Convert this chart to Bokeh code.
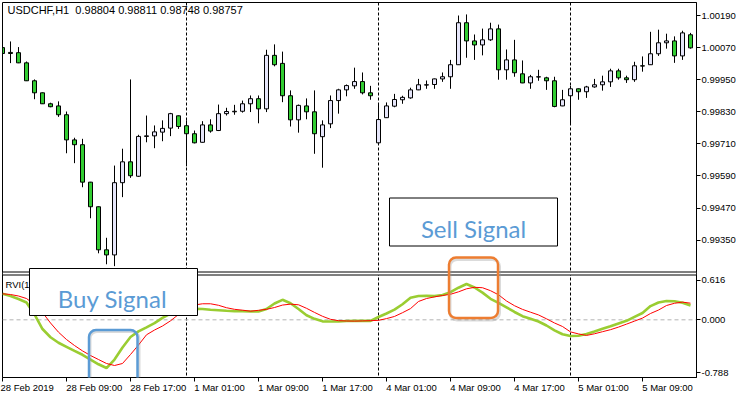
from bokeh.plotting import figure
from bokeh.models import (Range1d, LinearAxis, FixedTicker, PrintfTickFormatter, Span,
                          BoxAnnotation, Label, ColumnDataSource)
from bokeh.embed import file_html
from bokeh.resources import INLINE

# ---------------- data ----------------
header_text = "USDCHF,H1\u00a0 0.98804 0.98811 0.98748 0.98757"
indicator_text = "RVI(10) 0.1993 0.2314"

opens = [1.00070, 1.00052, 1.00051, 1.00013, 0.99946, 0.99901, 0.99860, 0.99852, 0.99819, 0.99725,
         0.99707, 0.99567, 0.99475, 0.99314, 0.99295, 0.99565, 0.99643, 0.99589, 0.99738, 0.99740,
         0.99754, 0.99769, 0.99815, 0.99778, 0.99748, 0.99716, 0.99781, 0.99760, 0.99823, 0.99830,
         0.99832, 0.99860, 0.99879, 0.99841, 1.00041, 1.00011, 0.99890, 0.99800, 0.99852, 0.99830,
         0.99737, 0.99785, 0.99872, 0.99912, 0.99927, 0.99943, 0.99901, 0.99714, 0.99808, 0.99851,
         0.99875, 0.99882, 0.99912, 0.99930, 0.99932, 0.99953, 0.99961, 1.00006, 1.00163, 1.00095,
         1.00080, 1.00099, 1.00140, 0.99987, 1.00024, 0.99972, 0.99938, 0.99960, 0.99957, 0.99946,
         0.99852, 0.99890, 0.99916, 0.99905, 0.99923, 0.99931, 0.99942, 0.99983, 0.99957, 0.99950,
         1.00002, 1.00006, 1.00047, 1.00088, 1.00095, 1.00039, 1.00118]
highs = [1.00082, 1.00093, 1.00072, 1.00018, 0.99951, 0.99902, 0.99864, 0.99869, 0.99831, 0.99733,
         0.99729, 0.99568, 0.99476, 0.99359, 0.99629, 0.99692, 0.99951, 0.99744, 0.99816, 0.99779,
         0.99798, 0.99826, 0.99816, 0.99798, 0.99760, 0.99795, 0.99802, 0.99857, 0.99845, 0.99856,
         0.99872, 0.99891, 0.99891, 1.00062, 1.00082, 1.00055, 0.99910, 0.99857, 0.99880, 0.99910,
         0.99798, 0.99891, 0.99916, 0.99932, 0.99995, 0.99977, 0.99927, 0.99860, 0.99865, 0.99897,
         0.99890, 0.99920, 0.99953, 0.99947, 0.99954, 0.99977, 1.00024, 1.00190, 1.00194, 1.00119,
         1.00141, 1.00163, 1.00156, 1.00063, 1.00099, 1.00022, 0.99968, 0.99987, 0.99961, 0.99961,
         0.99912, 0.99927, 0.99917, 0.99927, 0.99953, 0.99965, 0.99991, 0.99991, 0.99965, 1.00017,
         1.00037, 1.00129, 1.00137, 1.00122, 1.00112, 1.00133, 1.00125]
lows = [1.00040, 1.00012, 1.00012, 0.99945, 0.99877, 0.99859, 0.99847, 0.99811, 0.99675, 0.99638,
        0.99548, 0.99432, 0.99301, 0.99260, 0.99253, 0.99511, 0.99583, 0.99587, 0.99716, 0.99694,
        0.99720, 0.99739, 0.99766, 0.99626, 0.99712, 0.99715, 0.99752, 0.99758, 0.99816, 0.99819,
        0.99827, 0.99829, 0.99787, 0.99829, 1.00000, 0.99866, 0.99775, 0.99752, 0.99802, 0.99673,
        0.99621, 0.99769, 0.99823, 0.99888, 0.99916, 0.99895, 0.99875, 0.99713, 0.99807, 0.99847,
        0.99860, 0.99879, 0.99911, 0.99916, 0.99916, 0.99942, 0.99916, 1.00005, 1.00032, 1.00024,
        1.00041, 1.00095, 0.99950, 0.99950, 0.99961, 0.99937, 0.99916, 0.99946, 0.99912, 0.99847,
        0.99851, 0.99781, 0.99875, 0.99882, 0.99920, 0.99909, 0.99923, 0.99950, 0.99938, 0.99942,
        0.99980, 1.00005, 1.00039, 1.00066, 1.00013, 1.00024, 1.00066]
closes = [1.00048, 1.00048, 1.00013, 0.99946, 0.99901, 0.99860, 0.99849, 0.99819, 0.99725, 0.99707,
          0.99567, 0.99475, 0.99314, 0.99295, 0.99565, 0.99643, 0.99591, 0.99738, 0.99740, 0.99755,
          0.99768, 0.99823, 0.99775, 0.99748, 0.99714, 0.99781, 0.99758, 0.99823, 0.99831, 0.99832,
          0.99860, 0.99879, 0.99841, 1.00041, 1.00006, 0.99890, 0.99800, 0.99854, 0.99830, 0.99748,
          0.99781, 0.99872, 0.99912, 0.99928, 0.99943, 0.99901, 0.99890, 0.99801, 0.99852, 0.99876,
          0.99884, 0.99912, 0.99931, 0.99931, 0.99953, 0.99961, 1.00006, 1.00163, 1.00095, 1.00080,
          1.00099, 1.00140, 0.99987, 1.00024, 0.99976, 0.99938, 0.99961, 0.99961, 0.99946, 0.99850,
          0.99875, 0.99916, 0.99905, 0.99923, 0.99931, 0.99942, 0.99983, 0.99957, 0.99950, 1.00002,
          1.00001, 1.00047, 1.00088, 1.00095, 1.00039, 1.00125, 1.00069]

rvi_main = [0.362, 0.331, 0.289, 0.241, 0.074, -0.128, -0.242, -0.319, -0.375, -0.431,
            -0.486, -0.552, -0.618, -0.670, -0.552, -0.385, -0.239, -0.160, -0.104, -0.047,
            0.028, 0.088, 0.129, 0.150, 0.153, 0.150, 0.141, 0.134, 0.125, 0.120,
            0.120, 0.116, 0.116, 0.150, 0.227, 0.278, 0.231, 0.150, 0.064, 0.014,
            -0.021, -0.023, -0.023, -0.016, -0.014, -0.014, -0.014, 0.039, 0.088, 0.141,
            0.216, 0.306, 0.331, 0.335, 0.330, 0.346, 0.384, 0.446, 0.498, 0.449,
            0.378, 0.292, 0.236, 0.174, 0.109, 0.050, 0.014, -0.023, -0.079, -0.146,
            -0.201, -0.225, -0.221, -0.197, -0.162, -0.125, -0.089, -0.051, -0.014, 0.041,
            0.095, 0.191, 0.241, 0.262, 0.259, 0.236, 0.199]
rvi_signal = [0.362, 0.352, 0.331, 0.296, 0.213, 0.102, -0.044, -0.172, -0.274, -0.357,
              -0.432, -0.496, -0.552, -0.607, -0.635, -0.607, -0.482, -0.350, -0.208, -0.142,
              -0.086, -0.014, 0.074, 0.143, 0.206, 0.223, 0.223, 0.202, 0.168, 0.146,
              0.134, 0.120, 0.132, 0.146, 0.171, 0.205, 0.218, 0.209, 0.160, 0.103,
              0.049, 0.007, -0.012, -0.016, -0.018, -0.015, -0.012, -0.007, 0.017, 0.047,
              0.099, 0.156, 0.255, 0.296, 0.319, 0.338, 0.355, 0.389, 0.431, 0.452,
              0.446, 0.405, 0.348, 0.262, 0.196, 0.145, 0.106, 0.068, 0.014, -0.044,
              -0.093, -0.168, -0.196, -0.217, -0.194, -0.165, -0.137, -0.101, -0.060, -0.018,
              0.024, 0.088, 0.136, 0.199, 0.230, 0.246, 0.231]

price_ticks = [1.00190, 1.00070, 0.99950, 0.99830, 0.99710, 0.99590, 0.99470, 0.99350]
rvi_ticks = [0.616, 0.000, -0.788]
time_tick_bars = [0, 8, 16, 24, 32, 40, 48, 56, 64, 72, 80]
time_tick_labels = ["28 Feb 2019", "28 Feb 09:00", "28 Feb 17:00", "1 Mar 01:00", "1 Mar 09:00",
                    "1 Mar 17:00", "4 Mar 01:00", "4 Mar 09:00", "4 Mar 17:00", "5 Mar 01:00",
                    "5 Mar 09:00"]
day_break_bars = [23, 47, 71]

# ---------------- styling ----------------
BULL = "#E6E6FA"
BEAR = "#32CD32"
FONT = "Liberation Sans"

PRICE_LO, PRICE_HI = 0.988367, 1.002386
RVI_LO, RVI_HI = -0.8018, 4.4109
FRAME_H = 375  # px
# the indicator scale's end labels sit inside the pane (px shift, + = downwards)
rvi_label_shift_px = [4.5, 0.0, -4.0]

n = len(opens)
bars = list(range(n))
src = ColumnDataSource(dict(
    x=bars,
    high=highs,
    low=lows,
    top=[max(o, c) for o, c in zip(opens, closes)],
    bottom=[min(o, c) for o, c in zip(opens, closes)],
    color=[BULL if c >= o else BEAR for o, c in zip(opens, closes)],
))

p = figure(width=750, height=398, output_backend="svg", toolbar_location=None,
           x_range=Range1d(0, 86.75), y_range=Range1d(PRICE_LO, PRICE_HI),
           x_axis_location=None, y_axis_location=None,
           min_border_left=2, min_border_top=2, min_border_right=54, min_border_bottom=21,
           background_fill_color="white", border_fill_color="white")
p.styles = {"position": "absolute", "left": "0px", "top": "0px"}
p.grid.visible = False
p.outline_line_color = "black"
p.outline_line_width = 1
p.extra_y_ranges = {"rvi": Range1d(RVI_LO, RVI_HI)}

# right axis: price scale of the main pane + indicator scale of the lower pane
price_per_px = (PRICE_HI - PRICE_LO) / FRAME_H
def rvi_to_price(v):
    return PRICE_LO + (v - RVI_LO) / (RVI_HI - RVI_LO) * (PRICE_HI - PRICE_LO)

rvi_tick_pos = [rvi_to_price(v) - s * price_per_px for v, s in zip(rvi_ticks, rvi_label_shift_px)]
yaxis = LinearAxis(ticker=FixedTicker(ticks=price_ticks + rvi_tick_pos),
                   formatter=PrintfTickFormatter(format="%.5f"))
yaxis.major_label_overrides = {pos: "%.3f" % v for pos, v in zip(rvi_tick_pos, rvi_ticks)}
yaxis.major_tick_out = 4
yaxis.major_tick_in = 0
yaxis.minor_tick_line_color = None
yaxis.major_label_standoff = 1
yaxis.major_label_text_font = FONT
yaxis.major_label_text_font_size = "9.5px"
yaxis.major_label_text_color = "black"
yaxis.axis_line_color = "black"
p.add_layout(yaxis, "right")

# time axis: labels start at their tick (padded on the left with no-break spaces)
CHAR_W = {" ": 0.278, ":": 0.278, "F": 0.611, "e": 0.556, "b": 0.556, "M": 0.833,
          "a": 0.556, "r": 0.333}
def text_em(s):
    return sum(CHAR_W.get(ch, 0.556) for ch in s)

def left_aligned(s, first):
    if first:
        return s  # pushed against the left edge by the axis itself
    return "\u00a0" * int(round(text_em(s) / 0.278)) + s

xaxis = LinearAxis(ticker=FixedTicker(ticks=time_tick_bars))
xaxis.major_label_overrides = {b: left_aligned(lab, i == 0)
                               for i, (b, lab) in enumerate(zip(time_tick_bars, time_tick_labels))}
xaxis.major_tick_out = 4
xaxis.major_tick_in = 0
xaxis.minor_tick_line_color = None
xaxis.major_label_standoff = 0
xaxis.major_label_text_font = FONT
xaxis.major_label_text_font_size = "9.5px"
xaxis.major_label_text_color = "black"
xaxis.axis_line_color = "black"
p.add_layout(xaxis, "below")

# period separators and zero line
for b in day_break_bars:
    p.add_layout(Span(location=b, dimension="height", line_color="black",
                      line_dash="3 2", line_width=1, level="underlay"))
p.add_layout(Span(location=0, dimension="width", y_range_name="rvi", line_color="#b4b4b4",
                  line_dash="4 3", line_width=1, level="underlay"))

# candles
p.segment(x0="x", y0="low", x1="x", y1="high", source=src, line_color="black", line_width=1)
p.vbar(x="x", width=0.5, top="top", bottom="bottom", source=src,
       fill_color="color", line_color="black", line_width=1)

# RVI
p.line(bars, rvi_main, y_range_name="rvi", line_color="#9ACD32", line_width=2.6)
p.line(bars, rvi_signal, y_range_name="rvi", line_color="#FF0000", line_width=1)

def box(l, r, t, b, **kw):
    return BoxAnnotation(left=l, right=r, top=t, bottom=b,
                         left_units="canvas", right_units="canvas",
                         top_units="canvas", bottom_units="canvas", **kw)

# pane separator
p.add_layout(box(2, 696, 271.5, 274.5, fill_color="white", fill_alpha=1,
                 line_color="black", line_width=1, line_alpha=1))

# texts
p.add_layout(Label(x=7, y=9.5, x_units="canvas", y_units="canvas", text=header_text,
                   text_font=FONT, text_font_size="11px", text_color="black",
                   text_baseline="middle", text_align="left"))
p.add_layout(Label(x=5, y=284, x_units="canvas", y_units="canvas", text=indicator_text,
                   text_font=FONT, text_font_size="9.5px", text_color="black",
                   text_baseline="middle", text_align="left"))

# signal boxes
p.add_layout(box(29, 197, 268, 315, fill_color="white", fill_alpha=1,
                 line_color="black", line_width=1, line_alpha=1))
p.add_layout(box(389, 557, 197.5, 245.5, fill_color="white", fill_alpha=1,
                 line_color="black", line_width=1, line_alpha=1))
p.add_layout(Label(x=112, y=297.5, x_units="canvas", y_units="canvas", text="Buy Signal",
                   text_font="Lato", text_font_size="24px", text_color="#5B9BD5",
                   text_align="center", text_baseline="alphabetic"))
p.add_layout(Label(x=473, y=227.5, x_units="canvas", y_units="canvas", text="Sell Signal",
                   text_font="Lato", text_font_size="24px", text_color="#5B9BD5",
                   text_align="center", text_baseline="alphabetic"))

# highlight rounded boxes (with soft shadow)
p.add_layout(box(89.5, 138.5, 331, 390, fill_color=None, line_color="#999999",
                 line_alpha=0.35, line_width=3, border_radius=7))
p.add_layout(box(88.5, 137, 329.5, 388.5, fill_color=None, line_color="#5B9BD5",
                 line_alpha=1, line_width=2.5, border_radius=7))
p.add_layout(box(449.5, 499, 259, 319.5, fill_color=None, line_color="#999999",
                 line_alpha=0.35, line_width=3, border_radius=7))
p.add_layout(box(448.5, 497.5, 257, 317.5, fill_color=None, line_color="#ED7D31",
                 line_alpha=1, line_width=2.5, border_radius=7))

open("out.html", "w").write(file_html(p, INLINE))
